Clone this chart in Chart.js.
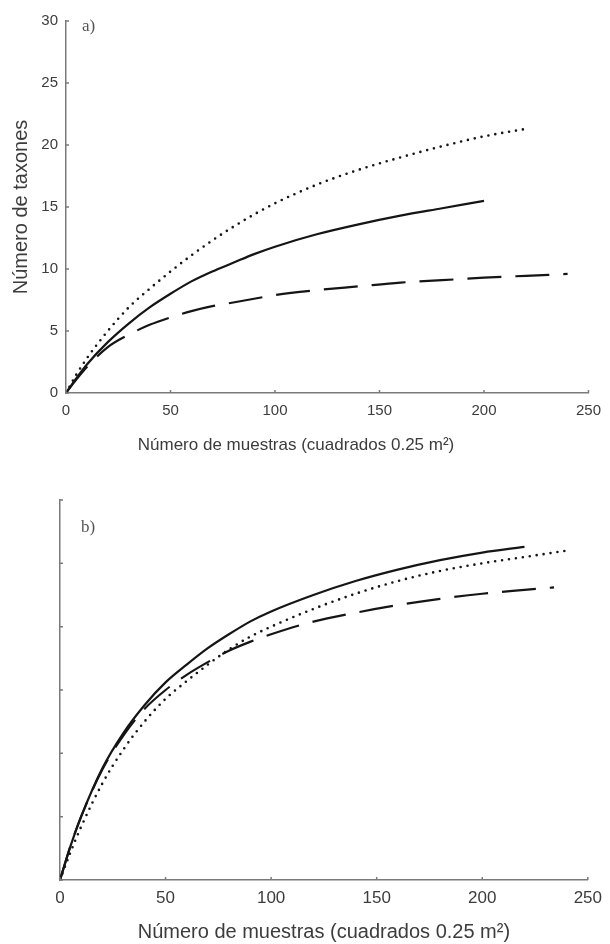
<!DOCTYPE html>
<html>
<head>
<meta charset="utf-8">
<script src="https://cdn.jsdelivr.net/npm/chart.js@4/dist/chart.umd.min.js"></script>
<style>
  html, body { margin: 0; padding: 0; background: #fff; }
  #panelA { position: absolute; left: 0; top: 0; }
  #panelB { position: absolute; left: 0; top: 460px; }
</style>
</head>
<body>
<canvas id="panelA" width="610" height="460"></canvas>
<canvas id="panelB" width="610" height="484"></canvas>
<script>
// Número de muestras (eje x) para cada curva
const muestras = [0, 5, 10, 20, 30, 40, 50, 60, 70, 80, 90, 100, 120, 140, 160, 180, 200, 220, 240];
const muestrasDiscontB = [0, 5, 10, 20, 30, 40, 50, 60, 70, 80, 90, 100, 120, 140, 160, 180, 200, 220, 234];

// Panel a) número de taxones
const continuaA   = [0, 1.2, 2.3, 4.1, 5.6, 6.9, 8.0, 9.0, 9.8, 10.5, 11.2, 11.8, 12.8, 13.6, 14.3, 14.9, 15.5];
const punteadaA   = [0, 1.5, 2.8, 5.0, 6.9, 8.4, 9.8, 11.1, 12.3, 13.4, 14.4, 15.3, 16.8, 18.0, 19.0, 19.9, 20.7, 21.3];
const discontA    = [0, 1.1, 2.1, 3.7, 4.7, 5.5, 6.1, 6.6, 7.0, 7.3, 7.6, 7.9, 8.3, 8.6, 8.9, 9.1, 9.3, 9.45, 9.6];

// Panel b) (eje y sin etiquetas)
const continuaB   = [0, 2.7, 5.0, 8.8, 11.6, 13.8, 15.6, 17.0, 18.3, 19.4, 20.4, 21.2, 22.5, 23.6, 24.5, 25.25, 25.85, 26.3];
const punteadaB   = [0, 2.2, 4.2, 7.6, 10.3, 12.5, 14.3, 15.7, 17.0, 18.2, 19.2, 20.0, 21.4, 22.6, 23.6, 24.4, 25.0, 25.5, 26.0];
const discontB    = [0, 2.7, 5.0, 8.7, 11.4, 13.5, 15.0, 16.2, 17.2, 18.1, 18.8, 19.4, 20.4, 21.1, 21.7, 22.2, 22.6, 22.9, 23.1];

const ticksX = [0, 50, 100, 150, 200, 250];
const ticksY = [0, 5, 10, 15, 20, 25, 30];

const tituloX = 'Número de muestras (cuadrados 0.25 m²)';
const tituloY = 'Número de taxones';

const pares = (xs, ys) => ys.map((y, i) => ({ x: xs[i], y: y }));

function series(xsDisc, cont, punt, disc) {
  return [
    { data: pares(muestras, punt), borderColor: '#151515', borderWidth: 2.6,
      borderDash: [0, 7], borderCapStyle: 'round' },
    { data: pares(muestras, cont), borderColor: '#151515', borderWidth: 2.2 },
    { data: pares(xsDisc, disc), borderColor: '#151515', borderWidth: 2.2,
      borderDash: [34, 14] }
  ];
}

// marcas de eje hacia dentro, estilo MATLAB
const marcasInternas = {
  id: 'marcasInternas',
  afterDraw(chart) {
    const { ctx, chartArea, scales } = chart;
    ctx.save();
    ctx.strokeStyle = '#7a7a7a';
    ctx.lineWidth = 1.5;
    ctx.beginPath();
    scales.x.ticks.forEach(t => {
      const px = scales.x.getPixelForValue(t.value);
      ctx.moveTo(px, chartArea.bottom);
      ctx.lineTo(px, chartArea.bottom - 3);
    });
    scales.y.ticks.forEach(t => {
      const py = scales.y.getPixelForValue(t.value);
      ctx.moveTo(chartArea.left, py);
      ctx.lineTo(chartArea.left + 3, py);
    });
    ctx.stroke();
    ctx.restore();
  }
};

// rótulos sueltos (letra del panel, título desplazado)
const rotulos = {
  id: 'rotulos',
  afterDraw(chart, args, opts) {
    const { ctx, chartArea } = chart;
    (opts.items || []).forEach(it => {
      ctx.save();
      ctx.font = it.font;
      ctx.fillStyle = it.color;
      ctx.textAlign = it.align || 'left';
      ctx.textBaseline = 'middle';
      ctx.fillText(it.text, chartArea.left + it.dx, chartArea.top + it.dy);
      ctx.restore();
    });
  }
};

function opciones(cfg) {
  return {
    responsive: false,
    animation: false,
    layout: { padding: cfg.padding },
    elements: { point: { radius: 0 }, line: { cubicInterpolationMode: 'monotone', fill: false } },
    plugins: {
      legend: { display: false },
      tooltip: { enabled: false },
      rotulos: { items: cfg.rotulos }
    },
    scales: {
      x: {
        type: 'linear', min: 0, max: 250,
        afterBuildTicks: s => { s.ticks = ticksX.map(v => ({ value: v })); },
        afterFit: s => { s.height = cfg.altoX; },
        grid: { display: false, drawTicks: false },
        border: { display: true, color: '#7a7a7a', width: 1.5 },
        ticks: { padding: cfg.padTickX, color: '#3c3c3c',
                 font: { family: 'Liberation Sans, Arial', size: cfg.fuenteTick } },
        title: cfg.tituloX
      },
      y: {
        type: 'linear', min: 0, max: 30,
        afterBuildTicks: s => { s.ticks = ticksY.map(v => ({ value: v })); },
        afterFit: s => { s.width = cfg.anchoY; },
        grid: { display: false, drawTicks: false },
        border: { display: true, color: '#7a7a7a', width: 1.5 },
        ticks: { display: cfg.etiquetasY, padding: 8, color: '#3c3c3c',
                 font: { family: 'Liberation Sans, Arial', size: cfg.fuenteTick } },
        title: cfg.tituloY
      }
    }
  };
}

new Chart(document.getElementById('panelA'), {
  type: 'line',
  data: { datasets: series(muestras, continuaA, punteadaA, discontA) },
  options: opciones({
    padding: { top: 21, right: 16, bottom: 0, left: 0 },
    altoX: 67, anchoY: 66, padTickX: 9, fuenteTick: 15, etiquetasY: true,
    tituloX: { display: false },
    tituloY: { display: true, text: tituloY, color: '#3c3c3c', padding: { top: 9, bottom: 0 },
               font: { family: 'Liberation Sans, Arial', size: 20 } },
    rotulos: [
      { text: 'a)', dx: 16, dy: 6, font: '17px "Liberation Serif"', color: '#555' },
      { text: tituloX, dx: 230, dy: 52 + 372, align: 'center',
        font: '17px "Liberation Sans"', color: '#3c3c3c' }
    ]
  }),
  plugins: [marcasInternas, rotulos]
});

new Chart(document.getElementById('panelB'), {
  type: 'line',
  data: { datasets: series(muestrasDiscontB, continuaB, punteadaB, discontB) },
  options: opciones({
    padding: { top: 40, right: 15, bottom: 0, left: 0 },
    altoX: 64, anchoY: 60, padTickX: 8, fuenteTick: 17, etiquetasY: false,
    tituloX: { display: true, text: tituloX, color: '#3c3c3c', padding: { top: 0, bottom: 0 },
               font: { family: 'Liberation Sans, Arial', size: 20 } },
    tituloY: { display: false },
    rotulos: [
      { text: 'b)', dx: 21, dy: 28, font: '17px "Liberation Serif"', color: '#555' }
    ]
  }),
  plugins: [marcasInternas, rotulos]
});
</script>
</body>
</html>
